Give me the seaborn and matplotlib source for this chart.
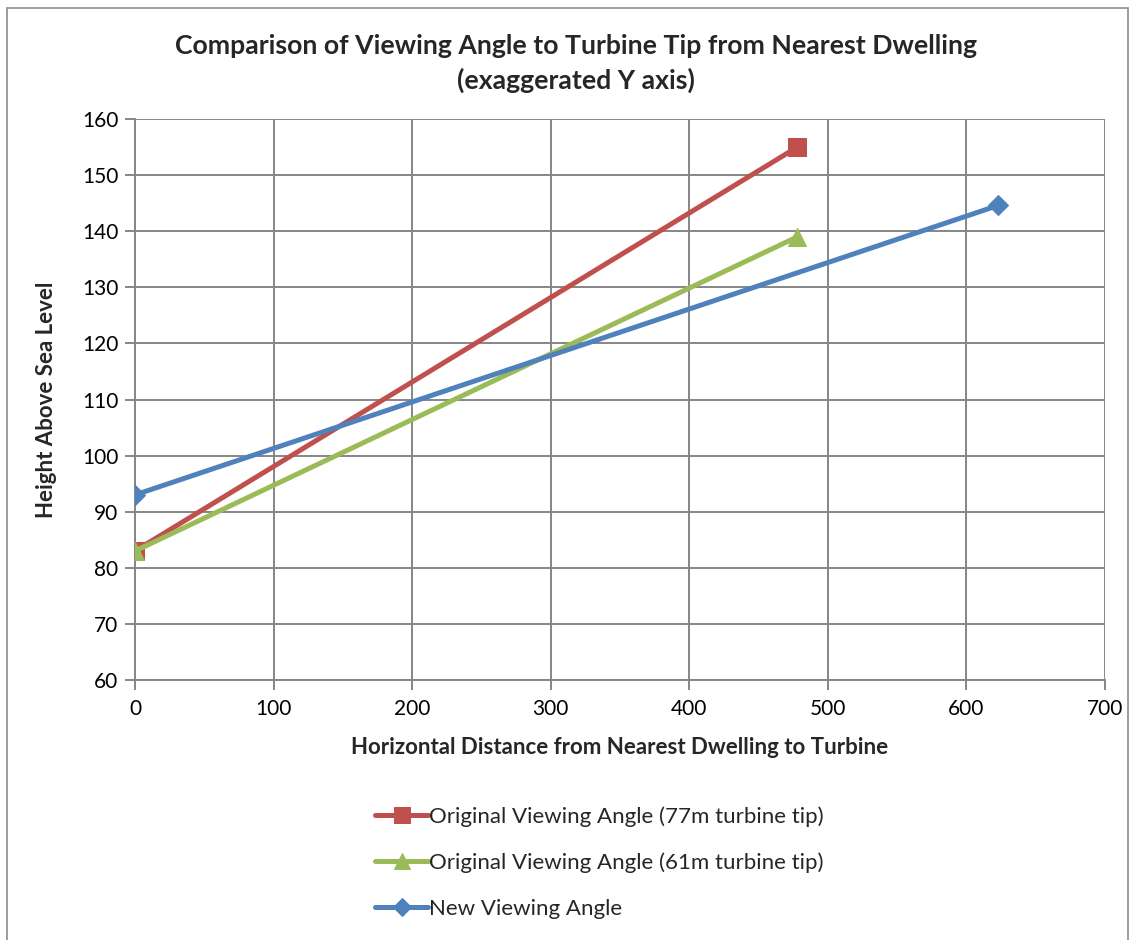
import matplotlib
matplotlib.use("Agg")
import matplotlib.pyplot as plt
from matplotlib.patches import Rectangle
import seaborn as sns
import pandas as pd

# Series data: horizontal distance (m) and height above sea level (m)
series_names = [
    "Original Viewing Angle (77m turbine tip)",
    "Original Viewing Angle (61m turbine tip)",
    "New Viewing Angle",
]
distance_77 = [0, 478]
height_77 = [83, 155]
distance_61 = [0, 478]
height_61 = [83, 139]
distance_new = [0, 623]
height_new = [93, 144.6]

colors = ["#C0504D", "#9BBB59", "#4F81BD"]
markers = ["s", "^", "D"]
marker_sizes = [13, 13, 10]

x_ticks = [0, 100, 200, 300, 400, 500, 600, 700]
y_ticks = [60, 70, 80, 90, 100, 110, 120, 130, 140, 150, 160]

df = pd.concat([
    pd.DataFrame({"x": distance_77, "y": height_77, "series": series_names[0]}),
    pd.DataFrame({"x": distance_61, "y": height_61, "series": series_names[1]}),
    pd.DataFrame({"x": distance_new, "y": height_new, "series": series_names[2]}),
], ignore_index=True)

sns.set_theme(style="white")
plt.rcParams["font.family"] = ["Lato", "DejaVu Sans"]

fig = plt.figure(figsize=(11.33, 9.40), dpi=100)
ax = fig.add_axes([0.1192, 0.2766, 0.9753 - 0.1192, 0.8734 - 0.2766])

grid_col = "#868686"
for name, c, m, ms in zip(series_names, colors, markers, marker_sizes):
    sub = df[df["series"] == name]
    sns.lineplot(data=sub, x="x", y="y", ax=ax, color=c, linewidth=3.6,
                 marker=m, markersize=ms, markeredgecolor=c, label=name,
                 sort=False, estimator=None, zorder=3)

ax.set_xlim(0, 700)
ax.set_ylim(60, 160)
ax.set_xticks(x_ticks)
ax.set_yticks(y_ticks)
ax.grid(True, color=grid_col, linewidth=1.4)
for s in ["top", "right"]:
    ax.spines[s].set_visible(False)
for s in ["left", "bottom"]:
    ax.spines[s].set_color(grid_col)
    ax.spines[s].set_linewidth(1.4)
ax.tick_params(axis="both", which="both", length=7, width=1.4, color=grid_col,
               labelsize=15, labelcolor="black", direction="out")
ax.tick_params(axis="x", pad=7)
ax.tick_params(axis="y", pad=5)
ax.xaxis.set_ticks_position("bottom")
ax.yaxis.set_ticks_position("left")

ax.set_xlabel("Horizontal Distance from Nearest Dwelling to Turbine",
              fontsize=16, fontweight="bold", labelpad=13)
ax.set_ylabel("Height Above Sea Level", fontsize=16, fontweight="bold",
              labelpad=18)

fig.text(0.508, 0.951, "Comparison of Viewing Angle to Turbine Tip from Nearest Dwelling",
         ha="center", va="center", fontsize=19.2, fontweight="bold")
fig.text(0.508, 0.915, "(exaggerated Y axis)",
         ha="center", va="center", fontsize=19.2, fontweight="bold")

leg = fig.legend(*ax.get_legend_handles_labels(), loc="upper left",
                 bbox_to_anchor=(375 / 1133, 1 - 806 / 940), frameon=False,
                 fontsize=16, handlelength=2.4, handletextpad=0.05,
                 labelspacing=1.17, markerscale=0.9, borderaxespad=0,
                 borderpad=0)
ax.get_legend().remove()

# chart border
fig.patches.append(Rectangle((7 / 1133, -0.1), (1128 - 7) / 1133, 1.1 - 8 / 940,
                             transform=fig.transFigure, fill=False,
                             edgecolor="#8c8c8c", linewidth=1.2))

fig.savefig("out.png", dpi=100)
